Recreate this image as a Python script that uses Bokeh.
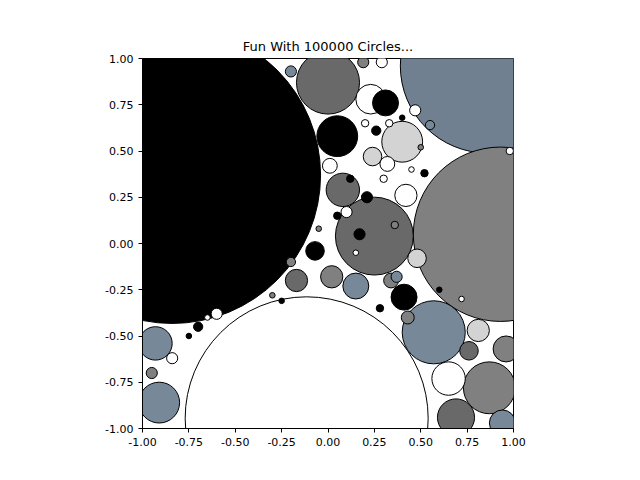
from bokeh.plotting import figure
from bokeh.models import Range1d, FixedTicker, NumeralTickFormatter
from bokeh.embed import file_html
from bokeh.resources import INLINE

# circles: centre, radius, fill colour
xs = [-0.84, -0.115, 0.86, 0.93, 0.25, 0.0, 0.57, 0.87, -0.91, -0.93,
      0.69, 0.65, 0.40, 0.05, 0.08, 0.23, 0.31, 0.24, 0.42, 0.41,
      0.15, 0.02, -0.17, -0.07, 0.81, 0.96, 0.76, 0.94, 0.48, 0.32,
      0.01, 0.34, 0.43, 0.21, 0.47, 0.19, -0.20, 0.26, 0.10, -0.60,
      -0.70, -0.95, -0.84, 0.37, 0.55, 0.98, 0.17, -0.20, 0.29,
      0.12, 0.30, 0.36, 0.52, 0.45, 0.05, -0.05, 0.20, 0.60, 0.72,
      -0.55, -0.65, -0.75, -0.30, -0.25, 0.33, 0.40, 0.50, 0.15, 0.28]
ys = [0.37, -0.945, 0.96, 0.05, 0.04, 0.87, -0.48, -0.78, -0.86, -0.54,
      -0.94, -0.73, 0.55, 0.58, 0.29, 0.78, 0.76, 0.47, 0.26, -0.29,
      -0.23, -0.18, -0.20, -0.04, -0.47, -0.57, -0.58, -0.97, -0.08, 0.43,
      0.42, -0.20, -0.40, 0.25, 0.72, 0.98, 0.93, 0.61, 0.17, -0.38,
      -0.45, -0.70, -0.62, -0.18, 0.64, 0.50, 0.05, -0.10, 0.98,
      0.35, 0.35, 0.10, 0.38, 0.40, 0.15, 0.08, 0.65, -0.25, -0.30,
      -0.32, -0.40, -0.50, -0.28, -0.31, 0.65, 0.68, 0.52, -0.05, -0.35]
rs = [0.80, 0.655, 0.47, 0.47, 0.21, 0.17, 0.17, 0.14, 0.11, 0.09,
      0.10, 0.09, 0.11, 0.11, 0.09, 0.08, 0.07, 0.05, 0.06, 0.07,
      0.07, 0.06, 0.06, 0.05, 0.06, 0.07, 0.05, 0.07, 0.05, 0.04,
      0.04, 0.04, 0.035, 0.03, 0.03, 0.03, 0.03, 0.025, 0.03, 0.03,
      0.025, 0.03, 0.03, 0.03, 0.025, 0.02, 0.03, 0.025, 0.03,
      0.02, 0.02, 0.02, 0.02, 0.015, 0.02, 0.015, 0.02, 0.015, 0.015,
      0.015, 0.015, 0.015, 0.015, 0.015, 0.02, 0.015, 0.015, 0.015, 0.02]
colors = ["black", "white", "slategray", "gray", "dimgray", "dimgray", "lightslategray", "gray", "lightslategray", "lightslategray",
          "dimgray", "white", "lightgray", "black", "dimgray", "white", "black", "lightgray", "white", "black",
          "lightslategray", "gray", "dimgray", "black", "lightgray", "gray", "dimgray", "lightslategray", "lightgray", "white",
          "white", "gray", "gray", "black", "white", "gray", "lightslategray", "black", "white", "white",
          "black", "gray", "white", "lightslategray", "lightslategray", "white", "black", "gray", "white",
          "black", "white", "gray", "black", "white", "black", "gray", "white", "black", "white",
          "black", "white", "black", "gray", "black", "white", "black", "gray", "white", "black"]

p = figure(width=640, height=480, output_backend="svg", toolbar_location=None,
           x_range=Range1d(-1, 1), y_range=Range1d(-1, 1),
           min_border_left=142, min_border_right=127, min_border_top=58, min_border_bottom=52,
           title="Fun With 100000 Circles...")
p.title.align = "center"
p.title.text_font_style = "normal"
p.title.text_font = "DejaVu Sans"
p.title.text_font_size = "13px"
p.title.text_color = "black"

p.circle(xs, ys, radius=rs, fill_color=colors, line_color="black", line_width=1)

ticks = [-1, -0.75, -0.5, -0.25, 0, 0.25, 0.5, 0.75, 1]
for ax in (p.xaxis, p.yaxis):
    ax.ticker = FixedTicker(ticks=ticks)
    ax.formatter = NumeralTickFormatter(format="0.00")
    ax.major_label_text_font = "DejaVu Sans"
    ax.major_label_text_font_size = "11px"
    ax.major_label_text_color = "black"
    ax.axis_line_color = "black"
    ax.major_tick_line_color = "black"
    ax.minor_tick_line_color = None
    ax.major_tick_in = 0
    ax.major_tick_out = 4
p.grid.visible = False
p.outline_line_color = "black"

open("out.html", "w").write(file_html(p, INLINE))
